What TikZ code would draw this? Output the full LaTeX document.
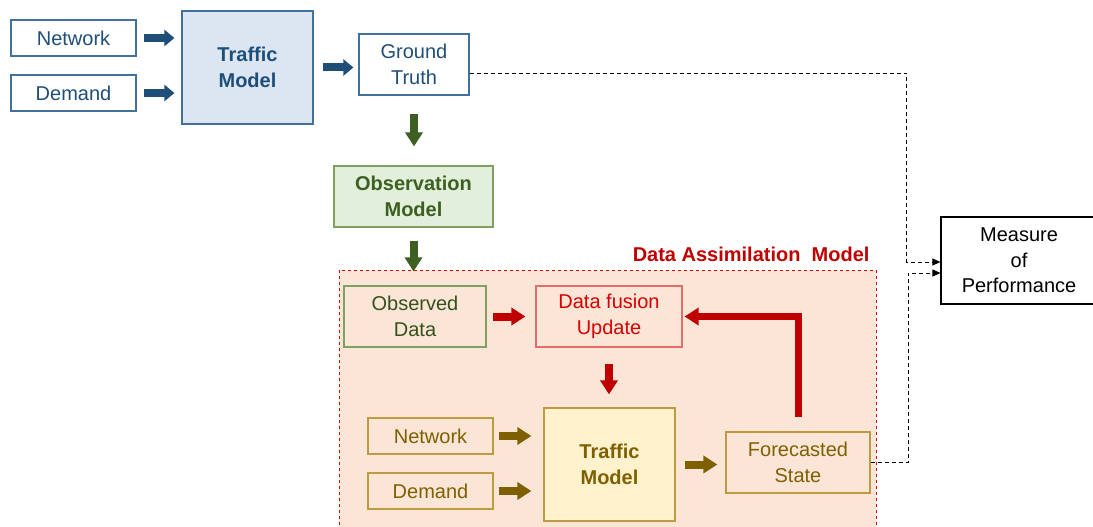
\documentclass[tikz,border=0pt]{standalone}
\usepackage{fontspec}
\setmainfont{Liberation Sans}
\usetikzlibrary{positioning,arrows.meta}
\definecolor{tblue}{HTML}{1F4E79}
\definecolor{bline}{HTML}{41719C}
\definecolor{bfill}{HTML}{DCE6F2}
\definecolor{tgreen}{HTML}{3D5F22}
\definecolor{gline}{HTML}{7F9F63}
\definecolor{gfill}{HTML}{E2EFDA}
\definecolor{tred}{HTML}{C00000}
\definecolor{rline}{HTML}{E46C6C}
\definecolor{dafill}{HTML}{FBE5D6}
\definecolor{tgold}{HTML}{7F6000}
\definecolor{oline}{HTML}{BF9A40}
\definecolor{ofill}{HTML}{FFF2CC}

\begin{document}
\begin{tikzpicture}[x=1pt, y=-1pt,
  box/.style={draw, line width=1.2pt, align=center, inner sep=0pt,
              font=\fontsize{20}{25.5}\selectfont},
  blue box/.style={box, draw=bline, text=tblue},
  green box/.style={box, draw=gline, text=tgreen},
  gold box/.style={box, draw=oline, text=tgold},
  blk/.style={line width=8pt, -{Triangle[length=14pt,width=17pt]}},
  dashline/.style={dashed, line width=0.9pt, dash pattern=on 4pt off 3pt,
                   -{Triangle[length=8pt,width=7pt]}}]
  \path[use as bounding box, fill=white] (0,0) rectangle (1093,527);
  \clip (0,0) rectangle (1093,527);
  \draw[red!90!black, dashed, line width=0.9pt, fill=dafill] (339,270) rectangle (876,540);
  \node[anchor=east, text=tred, font=\fontsize{20}{24}\selectfont\bfseries]
        (lbl) at (873,254) {Data Assimilation\ \ Model};

  \node[blue box, minimum width=125, minimum height=36] (net1) at (73.5,38) {Network};
  \node[blue box, minimum width=125, minimum height=36] (dem1) at (73.5,93) {Demand};
  \node[blue box, fill=bfill, font=\fontsize{20}{25.5}\selectfont\bfseries,
        minimum width=131, minimum height=113] (tm1) at (247.5,67.5) {Traffic\\Model};
  \node[blue box, minimum width=110, minimum height=61] (gt) at (414,64.5) {Ground\\Truth};
  \node[green box, fill=gfill, font=\fontsize{20}{25.5}\selectfont\bfseries,
        minimum width=159, minimum height=61] (obs) at (413.5,196.5) {Observation\\Model};

  \node[green box, text=tgreen!85!black, minimum width=142, minimum height=61] (od) at (415,316.5) {Observed\\Data};
  \node[box, draw=rline, text=red!85!black, minimum width=146, minimum height=61] (dfu) at (609,316.5) {Data fusion\\Update};
  \node[gold box, minimum width=125, minimum height=36] (net2) at (430.5,436) {Network};
  \node[gold box, minimum width=125, minimum height=36] (dem2) at (430.5,491) {Demand};
  \node[gold box, fill=ofill, font=\fontsize{20}{25.5}\selectfont\bfseries,
        minimum width=131, minimum height=113] (tm2) at (609.5,464.5) {Traffic\\Model};
  \node[gold box, minimum width=144, minimum height=61] (fs) at (798,462.5) {Forecasted\\State};
  \node[box, draw=black, minimum width=156, minimum height=87] (mop) at (1019,260.5) {Measure\\of\\Performance};

  \draw[blk, tblue, -{Triangle[length=10pt,width=16pt]}, shorten <=7pt, shorten >=7pt]
        (net1.east) -- (net1.east -| tm1.west);
  \draw[blk, tblue, -{Triangle[length=10pt,width=16pt]}, shorten <=7pt, shorten >=7pt]
        (dem1.east) -- (dem1.east -| tm1.west);
  \draw[blk, tblue, -{Triangle[length=10pt,width=16pt]}, shorten <=9pt, shorten >=5pt]
        (tm1.east) -- (tm1.east -| gt.west);
  \draw[blk, tgreen, shorten <=18pt, shorten >=19pt] (gt.south) -- (gt.south |- obs.north);
  \draw[blk, tgreen, shorten <=13pt, shorten >=14pt] (obs.south) -- (obs.south |- od.north);
  \draw[blk, tred, shorten <=6pt, shorten >=10pt] (od.east) -- (dfu.west);
  \draw[blk, tred, shorten <=16pt, shorten >=13pt] (dfu.south) -- (dfu.south |- tm2.north);
  \draw[blk, tred, line width=7pt, miter limit=10, shorten <=14pt, shorten >=2pt]
        (fs.north) |- (dfu.east);
  \draw[blk, tgold, shorten <=5pt, shorten >=12pt] (net2.east) -- (net2.east -| tm2.west);
  \draw[blk, tgold, shorten <=5pt, shorten >=12pt] (dem2.east) -- (dem2.east -| tm2.west);
  \draw[blk, tgold, shorten <=9pt, shorten >=8pt] (tm2.east) -- (tm2.east -| fs.west);

  \draw[dashline] ([yshift=-8.5pt]gt.east) -| ([xshift=-33.5pt,yshift=-1.5pt]mop.west)
        -- ([yshift=-1.5pt]mop.west);
  \draw[dashline] (fs.east) -| ([xshift=-32pt,yshift=-12.5pt]mop.west)
        -- ([yshift=-12.5pt]mop.west);
\end{tikzpicture}
\end{document}
